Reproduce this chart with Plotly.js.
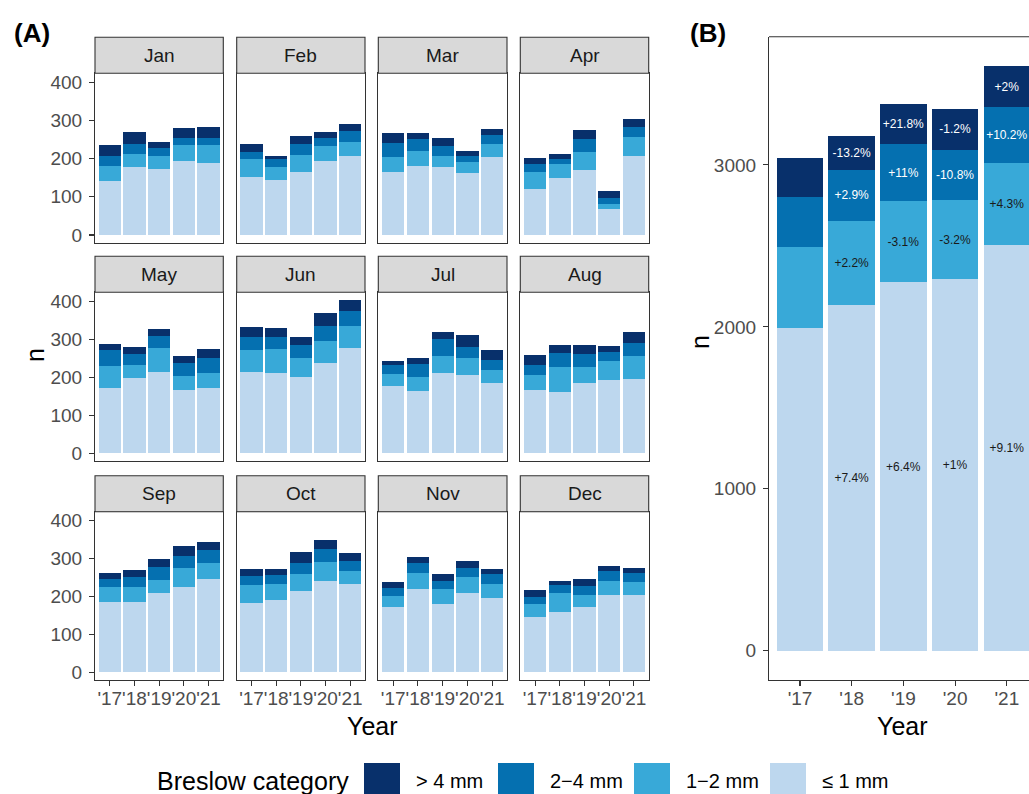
<!DOCTYPE html>
<html>
<head>
<meta charset="utf-8">
<script src="https://cdn.plot.ly/plotly-3.0.1.min.js"></script>
<style>
html, body { margin: 0; padding: 0; overflow: hidden; background: #fff; }
#chart { width: 1029px; height: 794px; }
</style>
</head>
<body>
<div id="chart"></div>
<script>
// ---------------- DATA ----------------
const months = ["Jan","Feb","Mar","Apr","May","Jun","Jul","Aug","Sep","Oct","Nov","Dec"];
const years = ["'17","'18","'19","'20","'21"];
const categories = ["> 4 mm", "2\u22124 mm", "1\u22122 mm", "\u2264 1 mm"];
const categoryColors = ["#08306b", "#0570b0", "#38a9d8", "#bdd7ee"];

// Panel A: monthly counts per year ('17..'21), one array per month
const monthLe1 = [
  [142,178,173,194,188],[153,144,165,193,207],[164,180,177,161,204],[120,150,171,67,207],
  [171,197,214,167,172],[214,212,201,237,276],[177,164,211,207,186],[166,160,186,192,195],
  [185,186,210,225,246],[183,190,215,241,232],[171,219,181,210,195],[147,159,173,204,203]
];
const month1to2 = [
  [39,35,34,41,47],[46,33,45,41,36],[41,41,30,29,33],[45,36,47,15,49],
  [58,35,62,35,40],[57,61,49,58,60],[32,37,46,43,33],[39,66,40,50,61],
  [39,38,33,51,43],[47,42,44,51,34],[29,44,39,41,37],[33,51,30,36,35]
];
const month2to4 = [
  [27,25,20,20,20],[17,22,28,19,28],[37,29,26,16,26],[22,14,32,15,26],
  [43,29,32,36,38],[35,32,34,41,38],[22,34,44,30,27],[26,37,35,25,35],
  [23,27,35,30,33],[24,24,29,33,27],[22,24,21,25,26],[18,21,25,26,24]
];
const monthGt4 = [
  [28,31,16,24,27],[22,8,22,16,20],[25,17,20,15,14],[15,12,25,19,22],
  [15,19,20,18,25],[25,24,22,32,29],[12,16,17,30,25],[27,22,24,16,29],
  [15,18,21,27,22],[19,17,28,23,21],[17,16,18,17,14],[19,11,18,15,14]
];

// Panel B: yearly totals and change labels
const yearLe1 = [1990, 2137, 2274, 2297, 2506];
const year1to2 = [505, 516, 500, 484, 505];
const year2to4 = [308, 317, 352, 314, 346];
const yearGt4 = [238, 207, 252, 249, 254];
const changeLe1 = ["", "+7.4%", "+6.4%", "+1%", "+9.1%"];
const change1to2 = ["", "+2.2%", "-3.1%", "-3.2%", "+4.3%"];
const change2to4 = ["", "+2.9%", "+11%", "-10.8%", "+10.2%"];
const changeGt4 = ["", "-13.2%", "+21.8%", "-1.2%", "+2%"];

// ---------------- LAYOUT HELPERS ----------------
const W = 1029, H = 794;
const FONT = "Liberation Sans, Arial, sans-serif";
const px = p => p / W;
const py = p => 1 - p / H;

const colX = [[95, 223.3], [236.7, 365], [378.3, 507], [520.3, 648.7]];
const rowY = [[73.3, 242.7], [292.3, 461], [511.7, 680]];
const stripH = 36;

// stacking order bottom -> top
const monthSeries = [
  {data: monthLe1, ci: 3},
  {data: month1to2, ci: 2},
  {data: month2to4, ci: 1},
  {data: monthGt4, ci: 0}
];
const yearSeries = [
  {data: yearLe1, labels: changeLe1, ci: 3, tc: "#1a1a1a"},
  {data: year1to2, labels: change1to2, ci: 2, tc: "#1a1a1a"},
  {data: year2to4, labels: change2to4, ci: 1, tc: "#ffffff"},
  {data: yearGt4, labels: changeGt4, ci: 0, tc: "#ffffff"}
];

const traces = [];
const layout = {
  width: W, height: H,
  margin: {l: 0, r: 0, t: 0, b: 0},
  paper_bgcolor: "#ffffff", plot_bgcolor: "#ffffff",
  barmode: "stack", bargap: 0.1,
  showlegend: false,
  font: {family: FONT, color: "#1a1a1a"},
  shapes: [], annotations: []
};

const axisCommon = {
  showgrid: false, zeroline: false,
  showline: true, linecolor: "#333333", linewidth: 1.1,
  ticks: "outside", ticklen: 5, tickwidth: 1.1, tickcolor: "#333333",
  tickfont: {family: FONT, size: 19, color: "#4d4d4d"},
  fixedrange: true
};

months.forEach((m, i) => {
  const r = Math.floor(i / 4), c = i % 4;
  const k = i + 1;
  const xa = k === 1 ? "x" : "x" + k;
  const ya = k === 1 ? "y" : "y" + k;
  monthSeries.forEach(s => {
    traces.push({
      type: "bar", x: years, y: s.data[i],
      xaxis: xa, yaxis: ya,
      name: categories[s.ci],
      marker: {color: categoryColors[s.ci], line: {width: 0}},
      hoverinfo: "x+y+name"
    });
  });
  layout["xaxis" + (k === 1 ? "" : k)] = Object.assign({}, axisCommon, {
    anchor: ya, domain: [px(colX[c][0]), px(colX[c][1])],
    type: "category", range: [-0.6, 4.6], mirror: true, tickangle: 0,
    showticklabels: r === 2, ticks: r === 2 ? "outside" : "",
    ticklabelstandoff: -4
  });
  layout["yaxis" + (k === 1 ? "" : k)] = Object.assign({}, axisCommon, {
    anchor: xa, domain: [py(rowY[r][1]), py(rowY[r][0])],
    range: [-20.2, 423.3], tickvals: [0, 100, 200, 300, 400], mirror: true,
    showticklabels: c === 0, ticks: c === 0 ? "outside" : "",
    ticklabelstandoff: 3
  });
  // strip
  layout.shapes.push({
    type: "rect", xref: "paper", yref: "paper",
    x0: px(colX[c][0]), x1: px(colX[c][1]),
    y0: py(rowY[r][0]), y1: py(rowY[r][0] - stripH),
    fillcolor: "#d9d9d9", line: {color: "#333333", width: 1.1}, layer: "above"
  });
  layout.annotations.push({
    xref: "paper", yref: "paper",
    x: px((colX[c][0] + colX[c][1]) / 2), y: py(rowY[r][0] - stripH / 2),
    text: m, showarrow: false, xanchor: "center", yanchor: "middle",
    font: {family: FONT, size: 19, color: "#1a1a1a"}
  });
});

// Panel B
const bLeft = 769, bTop = 36.7, bBottom = 680, bStep = 51.7;
yearSeries.forEach(s => {
  traces.push({
    type: "bar", x: years, y: s.data,
    xaxis: "x13", yaxis: "y13",
    name: categories[s.ci],
    marker: {color: categoryColors[s.ci], line: {width: 0}},
    text: s.labels, textposition: "inside", insidetextanchor: "middle",
    textangle: 0, constraintext: "none",
    textfont: {family: FONT, size: 12, color: s.tc},
    hoverinfo: "x+y+name"
  });
});
layout.xaxis13 = Object.assign({}, axisCommon, {
  anchor: "y13", domain: [px(bLeft), 1], tickangle: 0,
  type: "category", range: [-0.6, -0.6 + (W - bLeft) / bStep], mirror: false,
  ticklabelstandoff: -4
});
layout.yaxis13 = Object.assign({}, axisCommon, {
  anchor: "x13", domain: [py(bBottom), py(bTop)],
  range: [-180.5, 3791.5], tickvals: [0, 1000, 2000, 3000], mirror: false,
  ticklabelstandoff: 3
});
layout.shapes.push({
  type: "line", xref: "paper", yref: "paper",
  x0: px(bLeft), x1: 1, y0: py(bTop), y1: py(bTop),
  line: {color: "#333333", width: 1.1}
});

// Titles
const ann = (x, y, text, size, opts) => layout.annotations.push(Object.assign({
  xref: "paper", yref: "paper", x: px(x), y: py(y), text: text, showarrow: false,
  xanchor: "center", yanchor: "middle",
  font: {family: FONT, size: size, color: "#000000"}
}, opts || {}));
ann(32, 33, "<b>(A)</b>", 26);
ann(708, 33, "<b>(B)</b>", 26);
ann(372, 726, "Year", 25);
ann(902, 726, "Year", 25);
ann(35, 355, "n", 25, {textangle: -90});
ann(700, 342, "n", 25, {textangle: -90});

// Legend (drawn)
ann(155, 781, "Breslow category", 25, {xanchor: "left"});
const swatchX = [364, 498, 634, 770];
categories.forEach((cat, i) => {
  layout.shapes.push({
    type: "rect", xref: "paper", yref: "paper",
    x0: px(swatchX[i]), x1: px(swatchX[i] + 36),
    y0: py(800), y1: py(763),
    fillcolor: categoryColors[i], line: {width: 0}
  });
  ann(swatchX[i] + 50, 781, cat, 20, {xanchor: "left"});
});

Plotly.newPlot("chart", traces, layout, {displayModeBar: false, staticPlot: true});
</script>
</body>
</html>
